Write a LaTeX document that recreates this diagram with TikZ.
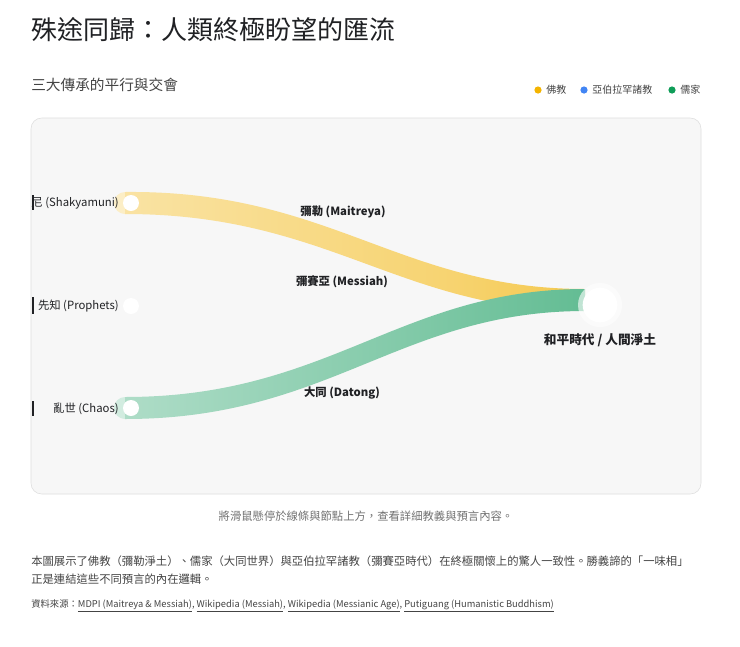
\documentclass[tikz,border=0pt]{standalone}
\usepackage{fontspec}
\setmainfont{Noto Sans CJK TC}
\definecolor{ylw}{HTML}{F4C542}
\definecolor{grn}{HTML}{4DB384}
\definecolor{blu}{HTML}{4285F4}
\definecolor{lgy}{HTML}{F4B400}
\definecolor{lgg}{HTML}{0F9D58}
\definecolor{txt}{HTML}{202124}
\definecolor{sub}{HTML}{444444}
\pgfdeclarehorizontalshading{yband}{100bp}{color(0bp)=(ylw!30!white); color(60bp)=(ylw!75!white); color(80bp)=(ylw); color(95bp)=(ylw!45!white); color(100bp)=(white)}
\pgfdeclarehorizontalshading{gband}{100bp}{color(0bp)=(grn!25!white); color(55bp)=(grn!70!white); color(78bp)=(grn!90!white); color(95bp)=(grn!30!white); color(100bp)=(white)}
\begin{document}
\begin{tikzpicture}[x=0.75pt,y=-0.75pt,
  lbl/.style={font=\fontsize{8.5}{10}\selectfont, text=txt, anchor=east, inner sep=0},
  band/.style={font=\bfseries\fontsize{8.5}{10}\selectfont, text=txt, inner sep=1pt},
  dot/.style={circle, fill=white, minimum size=12pt, inner sep=0},
  leg/.style={font=\fontsize{7.5}{9}\selectfont, text=sub, anchor=west, inner sep=0}]
\useasboundingbox (0,0) rectangle (740,647);
\fill[white] (0,0) rectangle (740,647);
\node[anchor=west, inner sep=0, font=\fontsize{19.5}{22}\selectfont, text=txt] (title) at (31,30) {殊途同歸：人類終極盼望的匯流};
\node[anchor=west, inner sep=0, font=\fontsize{11}{13}\selectfont, text=sub] (subt) at (31,85) {三大傳承的平行與交會};
\fill[lgy] (538,90) circle (3.6);
\node[leg] (l1) at (546,90) {佛教};
\fill[blu] (584,90) circle (3.6);
\node[leg] (l2) at (592,90) {亞伯拉罕諸教};
\fill[lgg] (672,90) circle (3.6);
\node[leg] (l3) at (680,90) {儒家};
\draw[draw=black!13, fill=black!3, rounded corners=8] (31,118) rectangle (701,494);
% bands
\fill[ylw!30!white] (125,203) circle (11);
\fill[grn!25!white] (125,408) circle (11);
\shade[shading=yband] (125,192) .. controls (330,190) and (400,289) .. (585,289)
  -- (585,311) .. controls (400,311) and (330,214) .. (125,214) -- cycle;
\shade[shading=gband] (125,397) .. controls (330,397) and (400,289) .. (585,289)
  -- (585,311) .. controls (400,311) and (330,419) .. (125,419) -- cycle;
\fill[white,opacity=0.6] (600,305) circle (22);
\node[dot] (n1) at (131,203) {};
\node[dot] (n2) at (131,306) {};
\node[dot] (n3) at (131,408) {};
\node[circle, fill=white, minimum size=26pt] (goal) at (600,305) {};
\node[lbl] (t1) at (119,203) {尼 (Shakyamuni)};
\node[lbl] (t2) at (119,306) {先知 (Prophets)};
\node[lbl] (t3) at (119,409) {亂世 (Chaos)};
\fill[txt] (32,297) rectangle (34,314);
\fill[txt] (32,195) rectangle (33.5,210);
\fill[txt] (32,401) rectangle (33.5,416);
\node[band] (b1) at (343,212) {彌勒 (Maitreya)};
\node[band] (b2) at (342,282) {彌賽亞 (Messiah)};
\node[band] (b3) at (342,393) {大同 (Datong)};
\node[font=\bfseries\fontsize{9.5}{11}\selectfont, text=txt] (gl) at (600,340) {和平時代 / 人間淨土};
\node[font=\itshape\fontsize{8.5}{10}\selectfont, text=black!55] (cap) at (366,516) {將滑鼠懸停於線條與節點上方，查看詳細教義與預言內容。};
\node[anchor=west, inner sep=0, font=\fontsize{8.5}{10}\selectfont, text=sub] (p1) at (31,561) {本圖展示了佛教（彌勒淨土）、儒家（大同世界）與亞伯拉罕諸教（彌賽亞時代）在終極關懷上的驚人一致性。勝義諦的「一味相」};
\node[anchor=west, inner sep=0, font=\fontsize{8.5}{10}\selectfont, text=sub] (p2) at (31,579) {正是連結這些不同預言的內在邏輯。};
\node[anchor=west, inner sep=0, font=\fontsize{7}{9}\selectfont, text=sub] (src) at (31,606) {資料來源：\underline{MDPI (Maitreya \& Messiah)}, \underline{Wikipedia (Messiah)}, \underline{Wikipedia (Messianic Age)}, \underline{Putiguang (Humanistic Buddhism)}};
\end{tikzpicture}
\end{document}
